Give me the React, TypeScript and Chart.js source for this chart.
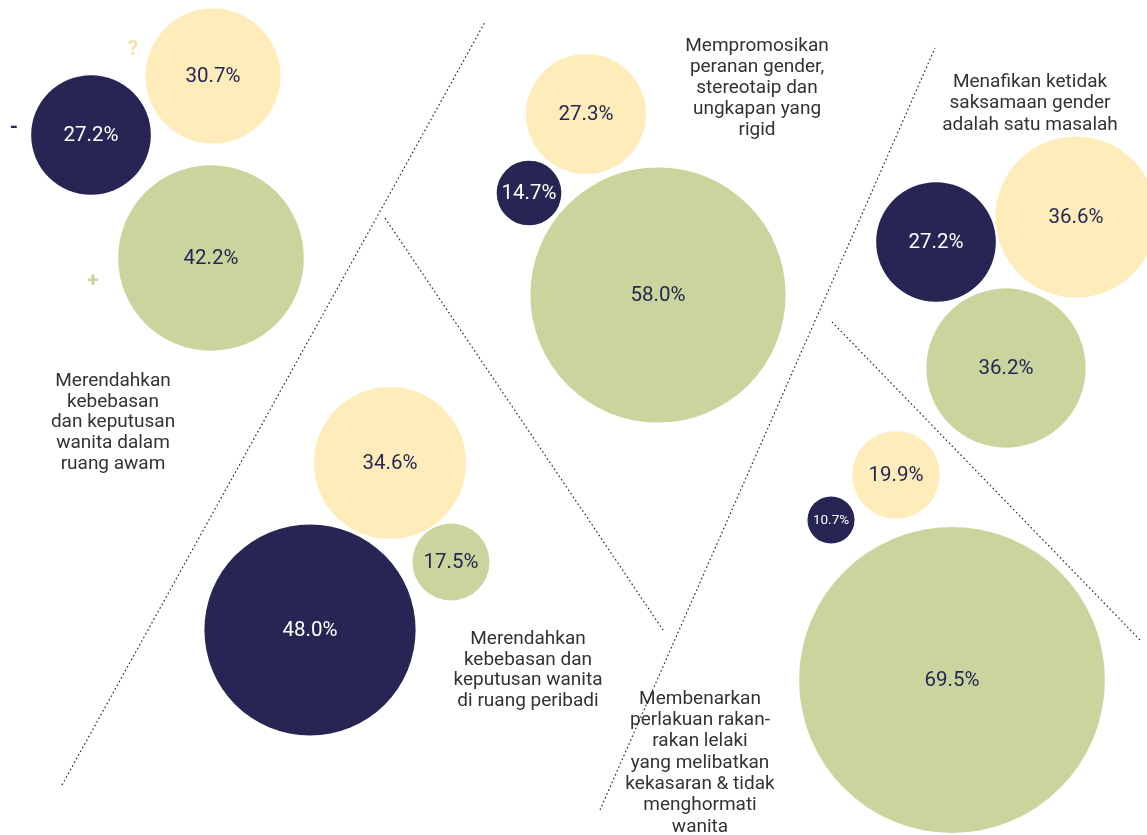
import React, { useEffect, useRef } from "react";
import { Chart, registerables } from "chart.js";

Chart.register(...registerables);

// ---- data ----
const categories = [
  ["Merendahkan", "kebebasan", "dan keputusan", "wanita dalam", "ruang awam"],
  ["Merendahkan", "kebebasan dan", "keputusan wanita", "di ruang peribadi"],
  ["Mempromosikan", "peranan gender,", "stereotaip dan", "ungkapan yang", "rigid"],
  ["Menafikan ketidak", "saksamaan gender", "adalah satu masalah"],
  ["Membenarkan", "perlakuan rakan-", "rakan lelaki", "yang melibatkan", "kekasaran & tidak", "menghormati", "wanita"],
];
const seriesNames = ["-", "?", "+"];
const negativeValues = [27.2, 48.0, 14.7, 27.2, 10.7];
const unsureValues = [30.7, 34.6, 27.3, 36.6, 19.9];
const positiveValues = [42.2, 17.5, 58.0, 36.2, 69.5];

// ---- layout (bubble centres in chart units) ----
const negativeX = [91, 310, 529, 936, 831];
const negativeY = [135, 630, 193, 242, 520];
const unsureX = [213, 390, 586, 1076, 896];
const unsureY = [76, 463, 114, 217, 475];
const positiveX = [211, 451, 658, 1006, 952];
const positiveY = [258, 562, 295, 368, 680];

const categoryLabelX = [113, 528, 757, 1030, 700];
const categoryLabelY = [381, 639, 46, 82, 699];
const categoryLineHeight = [20.8, 20.8, 21, 21.5, 21.3];

const symbolX = [14, 133, 93];
const symbolY = [128, 50, 282];

const dividers = [
  [62, 785, 485, 22],
  [385, 218, 663, 630],
  [600, 810, 935, 48],
  [832, 322, 1140, 640],
];

const W = 1147;
const H = 835;
const RADIUS_PER_POINT = 2.2;
const NAVY = "#272554";
const YELLOW = "#FEEDBA";
const GREEN = "#CAD59D";
const SYMBOL_COLORS = [NAVY, "#F3E3AE", GREEN];
const FONT = "Roboto, 'Noto Sans', sans-serif";

const mk = (xs: number[], ys: number[], vs: number[]) =>
  vs.map((v, i) => ({ x: xs[i], y: ys[i], r: v * RADIUS_PER_POINT, v }));

const overlay = {
  id: "overlay",
  beforeDatasetsDraw(chart: any) {
    const { ctx, scales } = chart;
    const sx = scales.x, sy = scales.y;
    ctx.save();
    ctx.strokeStyle = NAVY;
    ctx.lineWidth = 1.2;
    ctx.setLineDash([1.6, 2.6]);
    dividers.forEach(([x1, y1, x2, y2]) => {
      ctx.beginPath();
      ctx.moveTo(sx.getPixelForValue(x1), sy.getPixelForValue(y1));
      ctx.lineTo(sx.getPixelForValue(x2), sy.getPixelForValue(y2));
      ctx.stroke();
    });
    ctx.restore();
  },
  afterDatasetsDraw(chart: any) {
    const { ctx, scales } = chart;
    const sx = scales.x, sy = scales.y;
    ctx.save();
    ctx.textAlign = "center";
    ctx.textBaseline = "middle";
    // value labels
    chart.data.datasets.forEach((ds: any, di: number) => {
      const meta = chart.getDatasetMeta(di);
      meta.data.forEach((el: any, i: number) => {
        const d = ds.data[i];
        const size = d.r < 28 ? 13.5 : 20.5;
        ctx.font = `${size}px ${FONT}`;
        ctx.fillStyle = di === 0 ? "#FFFFFF" : NAVY;
        ctx.fillText(d.v.toFixed(1) + "%", el.x, el.y + 1);
      });
    });
    // category labels
    ctx.font = `19px ${FONT}`;
    ctx.fillStyle = "#333333";
    categories.forEach((lines, i) => {
      lines.forEach((line, j) => {
        ctx.fillText(
          line,
          sx.getPixelForValue(categoryLabelX[i]),
          sy.getPixelForValue(categoryLabelY[i] + j * categoryLineHeight[i])
        );
      });
    });
    // series symbols
    ctx.font = `bold 21px ${FONT}`;
    seriesNames.forEach((s, i) => {
      ctx.fillStyle = SYMBOL_COLORS[i];
      ctx.fillText(s, sx.getPixelForValue(symbolX[i]), sy.getPixelForValue(symbolY[i]));
    });
    ctx.restore();
  },
};

export default function App() {
  const ref = useRef<HTMLCanvasElement>(null);
  useEffect(() => {
    if (!ref.current) return;
    const chart = new Chart(ref.current, {
      type: "bubble",
      data: {
        datasets: [
          { label: seriesNames[0], data: mk(negativeX, negativeY, negativeValues) as any, backgroundColor: NAVY, borderWidth: 0, clip: false },
          { label: seriesNames[1], data: mk(unsureX, unsureY, unsureValues) as any, backgroundColor: YELLOW, borderWidth: 0, clip: false },
          { label: seriesNames[2], data: mk(positiveX, positiveY, positiveValues) as any, backgroundColor: GREEN, borderWidth: 0, clip: false },
        ] as any,
      },
      options: {
        animation: false,
        responsive: false,
        events: [],
        layout: { padding: 0, autoPadding: false } as any,
        plugins: { legend: { display: false }, tooltip: { enabled: false } },
        scales: {
          x: { type: "linear", min: 0, max: W, display: false },
          y: { type: "linear", min: 0, max: H, reverse: true, display: false },
        },
      },
      plugins: [overlay],
    });
    return () => chart.destroy();
  }, []);
  return (
    <div style={{ position: "absolute", left: 0, top: 0, width: W, height: H, background: "#fff" }}>
      <canvas ref={ref} width={W} height={H} style={{ width: W, height: H, display: "block" }} />
    </div>
  );
}
